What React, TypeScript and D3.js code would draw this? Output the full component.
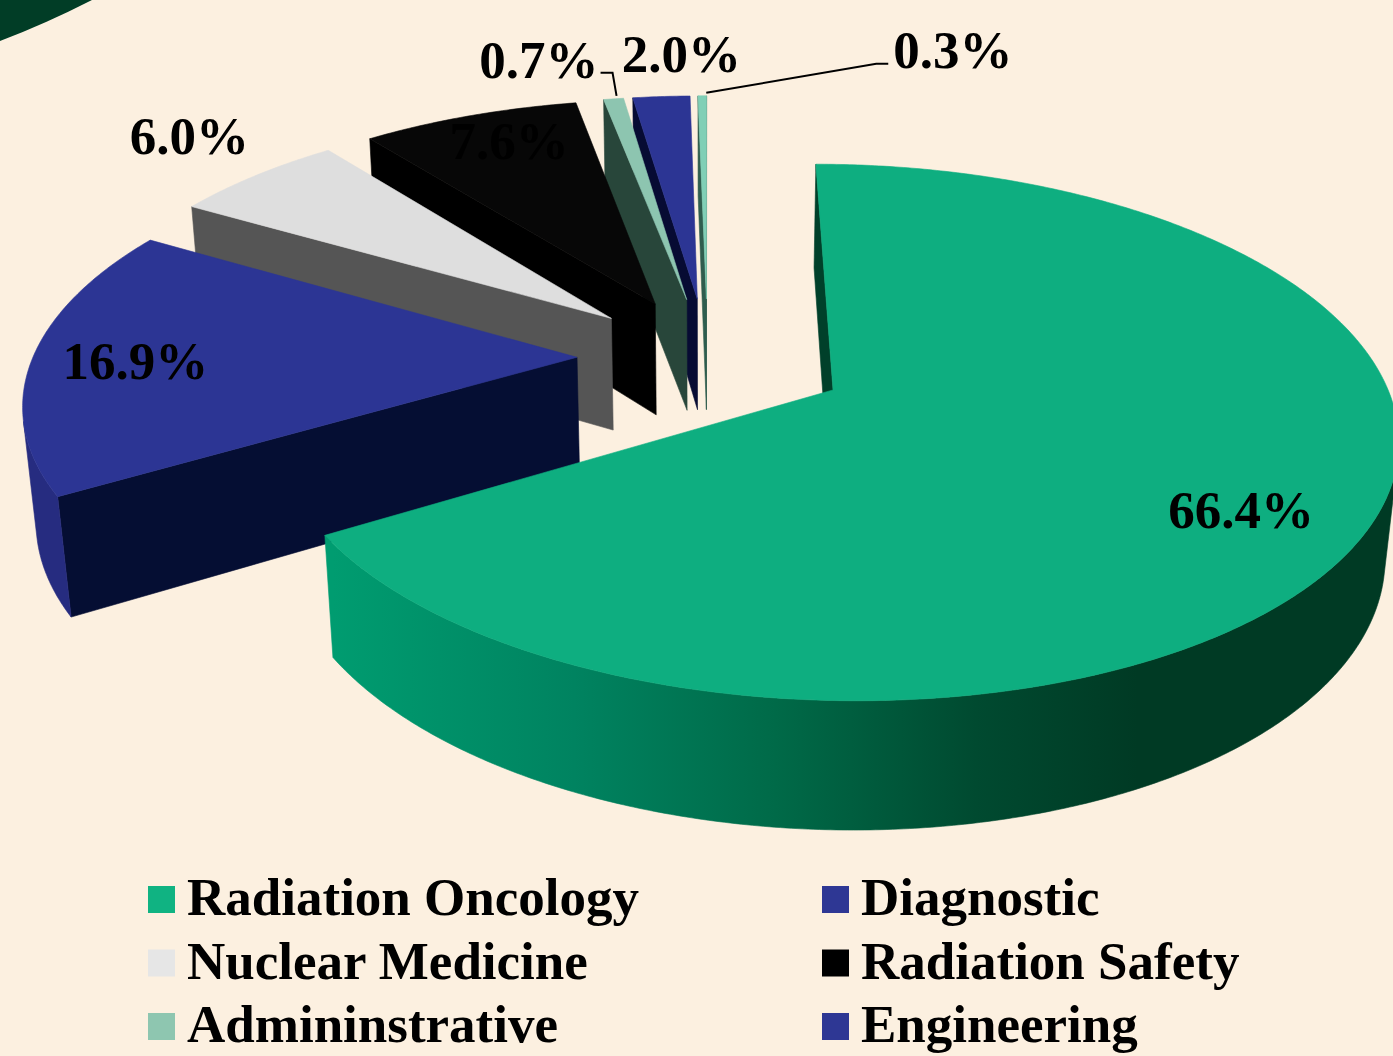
import * as d3 from "d3";

// ---- data ----
const categories = [
  "Radiation Oncology",
  "Diagnostic",
  "Nuclear Medicine",
  "Radiation Safety",
  "Admininstrative",
  "Engineering",
  "Other",
];
const shares = [66.4, 16.9, 6.0, 7.6, 0.7, 2.0, 0.3];
const shareLabels = ["66.4%", "16.9%", "6.0%", "7.6%", "0.7%", "2.0%", "0.3%"];
const legendCount = 6; // the last category is cut off in the original legend

// ---- styling ----
const topFill = ["#0EAE80", "#2C3594", "#DEDEDE", "#070707", "#8DC5B0", "#2C3594", "#80CFB6"];
const faceFill = ["#00402A", "#050E33", "#555555", "#000000", "#28463A", "#070B33", "#2F5D4E"];
const rimFill = ["url(#oncWall)", "#262C80", "#A9A9A9", "#000000", "#5F8F7E", "#1E2570", "#4E9A84"];
const legendFill = ["#10B382", "#2E3794", "#E6E6E6", "#000000", "#8EC6B0", "#2E3794"];
const explodeBy = [0.26, 0.24, 0.24, 0.24, 0.24, 0.24, 0.24];

const W = 1393;
const H = 1056;
const FONT = "'Liberation Serif', 'Times New Roman', serif";

// 3D view of the pie: unit radius, tilted and seen in perspective
const TILT = (27.5 * Math.PI) / 180;
const CAM = 5.71;
const THICK = 0.24;
const STEP = Math.PI / 360;

const px = d3.scaleLinear().domain([0, 1]).range([707.6, 707.6 + 544]);
const py = d3.scaleLinear().domain([0, 1]).range([357, 357 - 544]);

type V3 = [number, number, number];
type P2 = [number, number];

const cosT = Math.cos(TILT);
const sinT = Math.sin(TILT);

function depth([, Y, Z]: V3) {
  return Z * cosT + Y * sinT;
}

function project(p: V3): P2 {
  const [X, Y, Z] = p;
  const v = Y * cosT - Z * sinT;
  const s = CAM / (CAM - depth(p));
  return [px(X * s), py(v * s)];
}

const line = d3.line<P2>();
const polyPath = (pts: V3[]) => line(pts.map(project)) + "Z";

// label placement (radius along the mid angle + pixel nudge)
const labelPlace = [
  { r: 0.8, dx: -12, dy: 28, anchor: "middle" },
  { r: 0.8, dx: -6, dy: 21, anchor: "middle" },
  { r: 1.25, dx: 13, dy: 10, anchor: "middle" },
  { r: 0.8, dx: 6, dy: 9, anchor: "middle" },
  { r: 1, dx: -15, dy: -21, anchor: "end", leader: [[3, -3], [-1, -26], [-13, -26]] },
  { r: 1, dx: 20, dy: -25, anchor: "middle" },
  { r: 1, dx: 191, dy: -28, anchor: "start", leader: [[4, -3], [174, -32], [186, -32]] },
];

const pie = d3.pie<number>().sort(null).value((d) => d);
const arcs = pie(shares);

const slices = arcs.map((a, i) => {
  const mid = (a.startAngle + a.endAngle) / 2;
  const cx = explodeBy[i] * Math.sin(mid);
  const cz = -explodeBy[i] * Math.cos(mid);
  const rim = (t: number, y: number, r = 1): V3 => [cx + r * Math.sin(t), y, cz - r * Math.cos(t)];
  const apex = (y: number): V3 => [cx, y, cz];
  const steps = d3.range(a.startAngle, a.endAngle, STEP).concat([a.endAngle]);

  const faces: { d: string; fill: string }[] = [];

  // radial faces, kept only when they turn toward the camera
  const camZ = CAM * cosT;
  [
    [a.startAngle, -1],
    [a.endAngle, 1],
  ].forEach(([t, sign]) => {
    const n = t + (sign * Math.PI) / 2;
    const dot = Math.sin(n) * (0 - cx) - Math.cos(n) * (camZ - cz);
    if (dot > 0) {
      faces.push({
        d: polyPath([apex(0), rim(t, 0), rim(t, -THICK), apex(-THICK)]),
        fill: faceFill[i],
      });
    }
  });

  // outer curved wall, front part only
  const seen = (t: number) => -cx * Math.sin(t) - Math.cos(t) * (camZ - cz) - 1 > 0;
  let run: number[] = [];
  const runs: number[][] = [];
  steps.forEach((t) => {
    if (seen(t)) run.push(t);
    else if (run.length) {
      runs.push(run);
      run = [];
    }
  });
  if (run.length) runs.push(run);
  runs
    .filter((r) => r.length > 1)
    .forEach((r) => {
      const pts = r.map((t) => rim(t, 0)).concat(r.slice().reverse().map((t) => rim(t, -THICK)));
      faces.push({ d: polyPath(pts), fill: rimFill[i] });
    });

  faces.push({
    d: polyPath([apex(0), ...steps.map((t) => rim(t, 0))]),
    fill: topFill[i],
  });

  const lp = labelPlace[i];
  const anchor = project(rim(mid, 0, lp.r));

  return {
    i,
    faces,
    z: depth(rim(mid, -THICK / 2, 0.5)),
    anchor,
    lp,
    rim,
    a,
  };
});

const drawOrder = slices.slice().sort((p, q) => p.z - q.z);

// gradient across the big slice's wall
const onc = slices[0];
const gradX1 = project(onc.rim(onc.a.endAngle, -THICK))[0];
const gradX2 = project(onc.rim((153 * Math.PI) / 180, -THICK))[0];

export default function App() {
  return (
    <div>
      <svg
        width={W}
        height={H}
        style={{ position: "absolute", left: 0, top: 0, display: "block" }}
      >
        <defs>
          <linearGradient id="oncWall" gradientUnits="userSpaceOnUse" x1={gradX1} x2={gradX2} y1={0} y2={0}>
            <stop offset="0" stopColor="#009C70" />
            <stop offset="0.3" stopColor="#008360" />
            <stop offset="0.55" stopColor="#006A48" />
            <stop offset="0.8" stopColor="#004A30" />
            <stop offset="1" stopColor="#003A24" />
          </linearGradient>
        </defs>
        <rect width={W} height={H} fill="#FCF0E0" />
        <path d="M0,0 H92 Q45,24 0,41 Z" fill="#013D26" />

        {drawOrder.map((s) => (
          <g key={categories[s.i]}>
            {s.faces.map((f, k) => (
              <path key={k} d={f.d} fill={f.fill} stroke={f.fill} strokeWidth={0.6} strokeLinejoin="round" />
            ))}
          </g>
        ))}

        {slices.map((s) => {
          const [ax, ay] = s.anchor;
          const lp = s.lp;
          return (
            <g key={"lab" + s.i}>
              {lp.leader && (
                <polyline
                  points={lp.leader.map(([x, y]) => `${ax + x},${ay + y}`).join(" ")}
                  fill="none"
                  stroke="#000"
                  strokeWidth={2}
                />
              )}
              <text
                x={ax + lp.dx}
                y={ay + lp.dy}
                textAnchor={lp.anchor}
                fontFamily={FONT}
                fontWeight="bold"
                fontSize={53}
                fill="#000"
              >
                {shareLabels[s.i]}
              </text>
            </g>
          );
        })}

        {categories.slice(0, legendCount).map((name, i) => {
          const col = i % 2;
          const row = Math.floor(i / 2);
          const x = col === 0 ? 148 : 822;
          const base = 915 + row * 63.5;
          return (
            <g key={name}>
              <rect x={x} y={base - 29} width={27} height={27} fill={legendFill[i]} />
              <text x={x + 39} y={base} fontFamily={FONT} fontWeight="bold" fontSize={53} fill="#000">
                {name}
              </text>
            </g>
          );
        })}
      </svg>
    </div>
  );
}
